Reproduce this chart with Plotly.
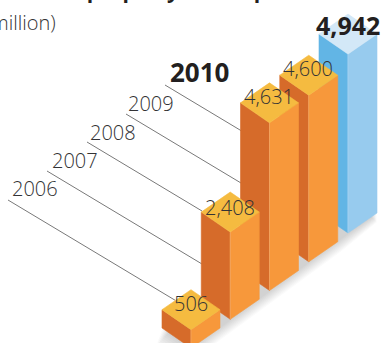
import plotly.graph_objects as go

# Chart data
years = ["2006", "2007", "2008", "2009", "2010"]
values = [506, 2408, 4631, 4600, 4942]
value_labels = ["506", "2,408", "4,631", "4,600", "4,942"]
title_text = "Investment in property development"
unit_text = "(in million)"

# Isometric projection, in plot units
px_per_value = 0.0362
first_front = (191.0, 348.0)
step = (39.25, -28.75)
half_w, half_d = 29.0, 20.0

ORANGE = dict(left="#D66B2A", right="#F7983B", top="#F5BB40", edge="#F2A868")
BLUE = dict(left="#62B5E5", right="#97CBEE", top="#D3E8F7", edge="#A9D5F1")

# Leader lines that run from each year label down to its bar
leader_start = [(8, 200), (47, 171), (87, 142), (126, 114), (165, 85)]
leader_end_x = [175, 202, 202, 241, 241]
leader_slope = 0.6

fig = go.Figure()


def polygon(xs, ys, color, opacity=1.0, width=0.6):
    fig.add_trace(go.Scatter(
        x=xs + xs[:1], y=ys + ys[:1], mode="lines", fill="toself",
        fillcolor=color, opacity=opacity, hoverinfo="skip",
        line=dict(color=color, width=width),
    ))


# Soft ground shadow built from stacked translucent bands
last = len(values) - 1
x_a = first_front[0]
y_a = first_front[1]
x_b = first_front[0] + step[0] * last
y_b = first_front[1] + step[1] * last
for k in range(2, 20, 2):
    dx, dy = -0.35 * k, k
    xs = [x_a - half_w + dx, x_a + dx, x_b + dx, x_b + half_w, x_b, x_a]
    ys = [y_a - half_d + dy, y_a + dy, y_b + dy, y_b - half_d + dy * 0.5, y_b - 2 * half_d, y_a - 2 * half_d]
    fig.add_trace(go.Scatter(
        x=xs + xs[:1], y=ys + ys[:1], mode="lines", fill="toself",
        fillcolor="rgba(0,0,0,0.018)", line=dict(width=0), hoverinfo="skip",
    ))

# Leader lines
for (x0, y0), x1 in zip(leader_start, leader_end_x):
    fig.add_trace(go.Scatter(
        x=[x0, x1], y=[y0, y0 + (x1 - x0) * leader_slope], mode="lines",
        line=dict(color="#7a7a7a", width=1), hoverinfo="skip",
    ))

# Bars are drawn back to front so nearer ones overlap those behind
for i in reversed(range(len(values))):
    fx = first_front[0] + step[0] * i
    fy = first_front[1] + step[1] * i
    h = values[i] * px_per_value
    pal = BLUE if i == last else ORANGE
    polygon([fx - half_w, fx, fx, fx - half_w],
            [fy - half_d, fy, fy - h, fy - half_d - h], pal["left"])
    polygon([fx, fx + half_w, fx + half_w, fx],
            [fy, fy - half_d, fy - half_d - h, fy - h], pal["right"])
    polygon([fx - half_w, fx, fx + half_w, fx],
            [fy - half_d - h, fy - h, fy - half_d - h, fy - 2 * half_d - h], pal["top"])
    fig.add_trace(go.Scatter(
        x=[fx, fx], y=[fy, fy - h], mode="lines",
        line=dict(color=pal["edge"], width=0.7), hoverinfo="skip",
    ))

TEXT = "#333335"
DARK = "#231F20"
FONT = "Open Sans"


def label(x, y, text, size=20, weight=300, color=TEXT, anchor="center"):
    fig.add_annotation(
        x=x, y=y, text=text, showarrow=False, xanchor=anchor, yanchor="middle",
        font=dict(family=FONT, size=size, color=color, weight=weight),
    )


# Year labels, with the latest year emphasised
year_x = [35, 75, 113, 151, 199]
year_y = [188, 160, 132, 103, 72]
for i, yr in enumerate(years):
    if i == last:
        label(year_x[i], year_y[i], yr, size=26, weight=700, color=DARK)
    else:
        label(year_x[i], year_y[i], yr)

# Value labels
value_x = [191, 230, 269, 308, 348]
value_y = [303, 207, 96, 68, 25]
for i, txt in enumerate(value_labels):
    if i == last:
        label(value_x[i], value_y[i], txt, size=25, weight=700, color=DARK)
    else:
        label(value_x[i], value_y[i], txt)

# Heading and unit
fig.add_annotation(
    x=325, y=6, text=title_text, showarrow=False, xanchor="right", yanchor="bottom",
    font=dict(family=FONT, size=21, color=DARK, weight=700),
)
label(58, 22, unit_text, size=20, anchor="right")

fig.update_layout(
    width=384, height=343, autosize=False,
    margin=dict(l=0, r=0, t=0, b=0),
    paper_bgcolor="white", plot_bgcolor="white",
    showlegend=False,
    xaxis=dict(range=[0, 384], visible=False, fixedrange=True),
    yaxis=dict(range=[343, 0], visible=False, fixedrange=True),
)
fig.write_html("out.html", config=dict(displayModeBar=False))
